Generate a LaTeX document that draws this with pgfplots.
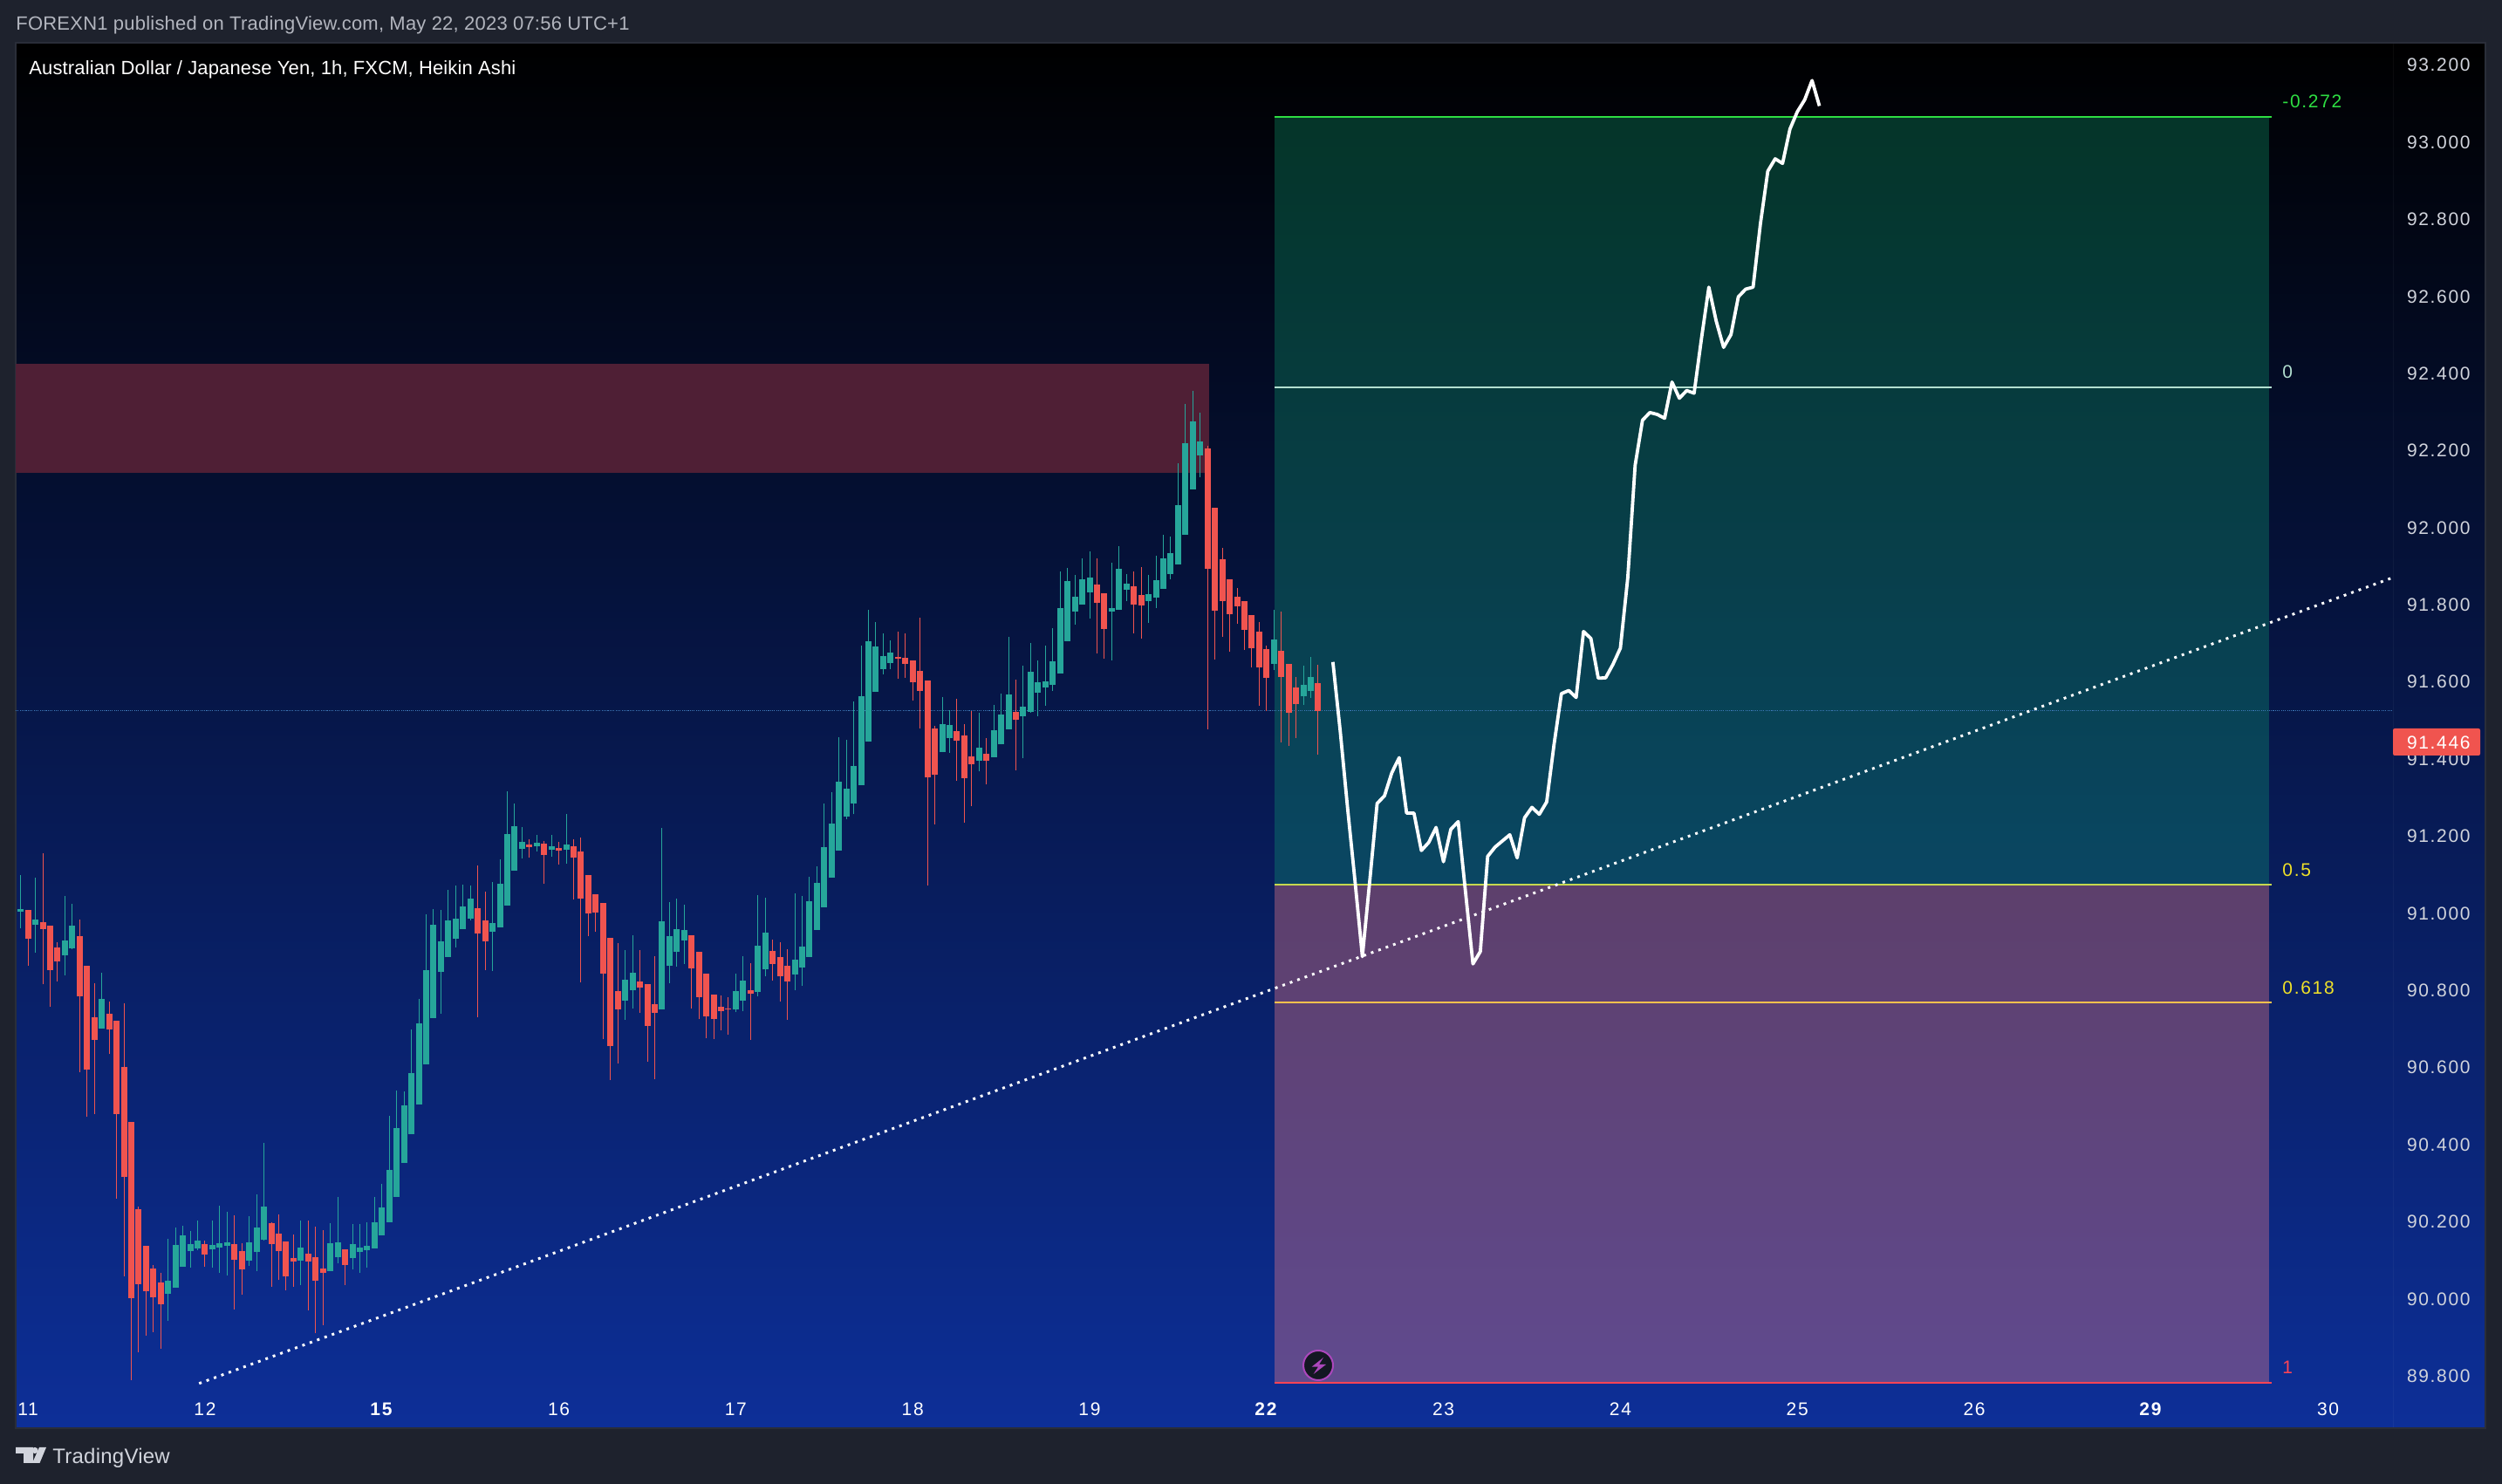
\documentclass[border=0pt]{standalone}
\usepackage{fontspec}
\usepackage{pgfplots}
\usepackage{pgfplotstable}
\pgfplotsset{compat=1.18}
\setmainfont{Liberation Sans}
\newfontfamily\tickfont[LetterSpace=8]{Liberation Sans}
\newfontfamily\headfont[LetterSpace=1]{Liberation Sans}
\newfontfamily\titlefont[LetterSpace=0.6]{Liberation Sans}

\definecolor{framecol}{HTML}{1E222D}
\definecolor{framelin}{HTML}{2A2E39}
\definecolor{bgbot}{HTML}{0D2F98}
\definecolor{upcol}{HTML}{26A69A}
\definecolor{dncol}{HTML}{F0544F}
\definecolor{labcol}{HTML}{D1D4DC}
\definecolor{headcol}{HTML}{B2B5BE}
\definecolor{zonecol}{HTML}{4F1F35}
\definecolor{tealfill}{HTML}{0FAA75}
\definecolor{pinkfill}{HTML}{F17C87}
\definecolor{fibgreen}{HTML}{2EDE42}
\definecolor{fibzero}{HTML}{B2DFD0}
\definecolor{fibhalf}{HTML}{C5D94F}
\definecolor{fibgold}{HTML}{FFC14D}
\definecolor{fibred}{HTML}{FF4455}
\definecolor{fibyel}{HTML}{F0E128}
\definecolor{lastline}{HTML}{3E78B8}
\definecolor{badge}{HTML}{AB47BC}
\definecolor{badgebg}{HTML}{131722}

% hours since May 11 00:00: wick low, wick high, body bottom, body top
\pgfplotstableread{
h lo hi bot top
-1 90.962 91.100 91.004 91.012
1 90.898 91.093 90.971 90.985
5 90.839 91.045 90.891 90.930
6 90.907 91.025 90.910 90.968
10 90.701 90.846 90.701 90.778
19 89.944 90.157 90.013 90.047
20 90.030 90.186 90.030 90.140
21 90.084 90.190 90.084 90.165
22 90.082 90.176 90.124 90.142
23 90.126 90.203 90.132 90.151
25 90.082 90.203 90.128 90.140
26 90.068 90.242 90.134 90.145
27 90.061 90.226 90.138 90.147
30 90.086 90.215 90.099 90.147
31 90.072 90.272 90.122 90.186
32 90.151 90.405 90.153 90.240
37 90.036 90.203 90.099 90.134
41 90.072 90.197 90.072 90.145
42 90.093 90.265 90.109 90.147
44 90.076 90.195 90.107 90.142
45 90.068 90.195 90.122 90.134
46 90.082 90.199 90.126 90.138
47 90.132 90.265 90.132 90.199
48 90.165 90.299 90.165 90.238
49 90.199 90.475 90.199 90.335
50 90.265 90.541 90.265 90.443
51 90.353 90.539 90.353 90.502
52 90.428 90.699 90.428 90.586
53 90.505 90.778 90.505 90.715
54 90.609 90.998 90.609 90.853
55 90.729 91.011 90.729 90.971
56 90.740 91.009 90.849 90.928
57 90.887 91.061 90.887 90.982
58 90.912 91.073 90.934 90.987
59 90.959 91.075 90.959 91.018
60 90.982 91.073 90.987 91.039
63 90.851 91.081 90.953 90.975
64 90.964 91.140 90.964 91.077
65 91.020 91.317 91.020 91.206
66 91.111 91.285 91.111 91.226
67 91.143 91.224 91.167 91.186
69 91.161 91.204 91.174 91.183
71 91.147 91.204 91.165 91.174
73 91.129 91.258 91.165 91.179
81 90.724 90.905 90.774 90.828
82 90.754 90.944 90.801 90.846
86 90.751 91.222 90.751 90.980
87 90.819 91.029 90.864 90.941
88 90.862 91.039 90.901 90.959
89 90.869 91.023 90.930 90.957
96 90.744 90.844 90.751 90.799
97 90.747 90.889 90.774 90.826
99 90.785 91.048 90.797 90.916
100 90.837 91.041 90.855 90.950
104 90.801 91.052 90.842 90.880
105 90.812 91.045 90.860 90.914
106 90.887 91.095 90.887 91.032
107 90.957 91.122 90.957 91.079
108 91.016 91.286 91.016 91.172
109 91.093 91.315 91.093 91.233
110 91.163 91.457 91.163 91.341
111 91.245 91.451 91.251 91.323
112 91.257 91.550 91.285 91.382
113 91.333 91.695 91.333 91.563
114 91.445 91.787 91.445 91.706
115 91.574 91.755 91.574 91.692
116 91.620 91.726 91.633 91.667
117 91.633 91.708 91.650 91.676
124 91.418 91.561 91.418 91.491
125 91.416 91.526 91.455 91.489
129 91.368 91.521 91.396 91.430
131 91.405 91.541 91.405 91.475
132 91.438 91.570 91.438 91.515
133 91.477 91.717 91.477 91.567
135 91.403 91.643 91.512 91.536
136 91.521 91.702 91.523 91.627
137 91.512 91.656 91.573 91.600
138 91.539 91.695 91.586 91.602
139 91.577 91.740 91.593 91.654
140 91.622 91.887 91.622 91.792
141 91.706 91.896 91.706 91.862
142 91.749 91.878 91.783 91.821
143 91.801 91.921 91.801 91.867
144 91.765 91.939 91.833 91.871
147 91.656 91.910 91.783 91.792
148 91.788 91.953 91.788 91.894
149 91.810 91.880 91.840 91.855
152 91.754 91.878 91.810 91.828
153 91.792 91.928 91.819 91.864
154 91.842 91.982 91.842 91.921
155 91.867 91.978 91.880 91.935
156 91.905 92.168 91.905 92.059
157 91.982 92.321 91.982 92.220
158 92.100 92.355 92.100 92.276
159 92.131 92.299 92.188 92.224
169 91.631 91.788 91.647 91.711
173 91.541 91.643 91.564 91.593
174 91.559 91.665 91.577 91.613
}\upbars

\pgfplotstableread{
h lo hi bot top
0 90.864 91.010 90.935 91.010
2 90.816 91.156 90.960 90.977
3 90.758 90.968 90.853 90.968
4 90.824 90.925 90.875 90.912
7 90.589 90.985 90.785 90.941
8 90.472 90.864 90.595 90.864
9 90.480 90.819 90.672 90.731
11 90.635 90.772 90.699 90.739
12 90.260 90.722 90.480 90.722
13 90.059 90.767 90.316 90.602
14 89.790 90.459 90.002 90.459
15 89.861 90.240 90.038 90.233
16 89.905 90.138 90.020 90.138
17 89.914 90.088 90.005 90.080
18 89.871 90.068 89.986 90.043
24 90.084 90.151 90.115 90.142
28 89.973 90.217 90.101 90.142
29 90.011 90.145 90.076 90.124
33 90.032 90.199 90.142 90.197
34 90.049 90.220 90.124 90.170
35 90.022 90.149 90.059 90.149
36 90.032 90.167 90.097 90.107
38 89.970 90.203 90.097 90.118
39 89.911 90.188 90.047 90.109
40 89.932 90.178 90.068 90.080
43 90.036 90.128 90.088 90.128
61 90.731 91.124 90.948 91.014
62 90.853 91.057 90.928 90.982
68 91.145 91.192 91.172 91.179
70 91.077 91.188 91.152 91.181
72 91.127 91.186 91.163 91.170
74 91.036 91.192 91.145 91.174
75 90.821 91.197 91.039 91.161
76 90.941 91.100 91.000 91.100
77 90.953 91.050 91.002 91.050
78 90.674 91.027 90.844 91.027
79 90.568 90.937 90.656 90.937
80 90.611 90.923 90.751 90.799
83 90.742 90.905 90.808 90.824
84 90.616 90.817 90.708 90.817
85 90.570 90.889 90.742 90.765
90 90.754 90.944 90.858 90.944
91 90.726 90.901 90.783 90.901
92 90.677 90.844 90.733 90.844
93 90.674 90.790 90.726 90.790
94 90.697 90.788 90.747 90.758
95 90.686 90.783 90.751 90.754
98 90.672 90.871 90.792 90.801
101 90.826 90.932 90.869 90.903
102 90.772 90.925 90.837 90.887
103 90.724 90.907 90.824 90.864
118 91.608 91.731 91.661 91.665
119 91.611 91.726 91.647 91.663
120 91.552 91.656 91.599 91.656
121 91.480 91.767 91.577 91.629
122 91.072 91.604 91.353 91.604
123 91.231 91.486 91.360 91.480
126 91.344 91.556 91.448 91.473
127 91.235 91.491 91.351 91.462
128 91.278 91.525 91.386 91.407
130 91.334 91.455 91.396 91.414
134 91.371 91.607 91.503 91.523
145 91.674 91.921 91.806 91.853
146 91.661 91.831 91.738 91.831
150 91.726 91.887 91.801 91.849
151 91.713 91.898 91.799 91.826
160 91.478 92.213 91.894 92.206
161 91.659 92.052 91.785 92.052
162 91.717 91.948 91.810 91.919
163 91.679 91.867 91.776 91.867
164 91.751 91.844 91.797 91.821
165 91.683 91.810 91.736 91.810
166 91.638 91.774 91.688 91.774
167 91.539 91.756 91.638 91.731
168 91.525 91.695 91.611 91.686
170 91.444 91.783 91.613 91.681
171 91.435 91.647 91.521 91.647
172 91.455 91.613 91.543 91.586
175 91.412 91.645 91.525 91.598
}\dnbars

% the drawn projection, one point per hour
\pgfplotstableread{
h p
177 91.652
178 91.472
179 91.272
180 91.084
181 90.888
182 91.084
183 91.285
184 91.305
185 91.365
186 91.404
187 91.260
188 91.260
189 91.163
190 91.184
191 91.223
192 91.134
193 91.218
194 91.238
195 91.054
196 90.869
197 90.901
198 91.148
199 91.172
200 91.188
201 91.204
202 91.144
203 91.248
204 91.275
205 91.257
206 91.289
207 91.438
208 91.570
209 91.578
210 91.560
211 91.731
212 91.713
213 91.610
214 91.611
215 91.646
216 91.688
217 91.870
218 92.162
219 92.279
220 92.299
221 92.294
222 92.284
223 92.378
224 92.336
225 92.356
226 92.349
227 92.491
228 92.624
229 92.536
230 92.468
231 92.501
232 92.599
233 92.619
234 92.624
235 92.789
236 92.925
237 92.957
238 92.945
239 93.034
240 93.079
241 93.110
242 93.160
243 93.094
}\projline

\pgfplotsset{
  candle/.style 2 args={draw=none,no markers,forget plot,
    error bars/.cd,y dir=plus,y explicit,error mark=none,
    error bar style={draw=#1,line width=#2,line cap=butt,solid}},
}

\begin{document}
\begin{tikzpicture}
\fill[framecol] (0,0) rectangle (1434pt,850.5pt);
\begin{axis}[
  at={(9pt,32pt)},anchor=south west,
  width=1415.5pt,height=794pt,scale only axis,
  xmin=-1.68,xmax=333.35,ymin=89.665,ymax=93.258,
  clip mode=individual,
  axis line style={draw=framelin,line width=0.8pt},
  axis background/.style={top color=black,bottom color=bgbot},
  major tick length=0pt,
  xtick={0,24,...,312},
  xticklabels={11,12,\textbf{15},16,17,18,19,\textbf{22},23,24,25,26,\textbf{29},30},
  xticklabel style={font=\tickfont\fontsize{10.5}{12}\selectfont,text=white,anchor=center,yshift=11pt},
  ytick={89.8,90,90.2,90.4,90.6,90.8,91,91.2,91.4,91.6,91.8,92,92.2,92.4,92.6,92.8,93,93.2},
  ytick pos=right,yticklabel pos=right,
  yticklabel style={font=\tickfont\fontsize{10.5}{12}\selectfont,text=labcol,anchor=east,inner sep=0pt,xshift=-8.5pt,
    /pgf/number format/.cd,fixed,fixed zerofill,precision=3,assume math mode=true},
]
% supply zone
\addplot[fill=zonecol,draw=none,forget plot] coordinates {(-1.68,92.143) (160.2,92.143) (160.2,92.425) (-1.68,92.425)} -- cycle;
% fibonacci zones
\addplot[fill=tealfill,fill opacity=0.3,draw=none,forget plot] coordinates {(169.1,91.074) (304,91.074) (304,93.066) (169.1,93.066)} -- cycle;
\addplot[fill=pinkfill,fill opacity=0.37,draw=none,forget plot] coordinates {(169.1,89.783) (304,89.783) (304,91.074) (169.1,91.074)} -- cycle;
\addplot[line width=1.2pt,draw=fibgreen,forget plot] coordinates {(169.1,93.066) (304.3,93.066)};
\addplot[line width=1.2pt,draw=fibzero,forget plot] coordinates {(169.1,92.364) (304.3,92.364)};
\addplot[line width=1.2pt,draw=fibhalf,forget plot] coordinates {(169.1,91.074) (304.3,91.074)};
\addplot[line width=1.2pt,draw=fibgold,forget plot] coordinates {(169.1,90.769) (304.3,90.769)};
\addplot[line width=1.2pt,draw=fibred,forget plot] coordinates {(169.1,89.783) (304.3,89.783)};
% last price line
\addplot[line width=0.5pt,draw=lastline,dash pattern=on 0.55pt off 0.6pt,forget plot] coordinates {(-1.68,91.527) (320.8,91.527)};
% candles
\addplot[candle={upcol}{0.5pt}] table[x=h,y=lo,y error expr=\thisrow{hi}-\thisrow{lo}] {\upbars};
\addplot[candle={upcol}{3.5pt}] table[x=h,y=bot,y error expr=\thisrow{top}-\thisrow{bot}] {\upbars};
\addplot[candle={dncol}{0.5pt}] table[x=h,y=lo,y error expr=\thisrow{hi}-\thisrow{lo}] {\dnbars};
\addplot[candle={dncol}{3.5pt}] table[x=h,y=bot,y error expr=\thisrow{top}-\thisrow{bot}] {\dnbars};
% trend line and projection
\addplot[white,line width=1.5pt,dash pattern=on 1.5pt off 3pt,forget plot] coordinates {(23.2,89.781) (320.8,91.871)};
\addplot[white,line width=1.9pt,line join=round,forget plot] table[x=h,y=p] {\projline};
\end{axis}
% annotations, in pixels of the page
\begin{scope}[x=0.5pt,y=-0.5pt,shift={(0pt,850.5pt)}]
\draw[white,opacity=0.04,line width=0.5pt] (2743,50) -- (2743,1636);
\fill[dncol,rounded corners=1pt] (2743,835) rectangle (2843,866);
\node[anchor=east,inner sep=0pt,text=white,font=\tickfont\fontsize{10.5}{12}\selectfont] at (2832,851) {91.446};
\node[anchor=west,inner sep=0pt,text=headcol,font=\headfont\fontsize{11}{13}\selectfont] at (18,29) {FOREXN1 published on TradingView.com, May 22, 2023 07:56 UTC+1};
\node[anchor=west,inner sep=0pt,text=white,font=\titlefont\fontsize{11}{13}\selectfont] at (33,79.5) {Australian Dollar / Japanese Yen, 1h, FXCM, Heikin Ashi};
\node[anchor=west,inner sep=0pt,text=fibgreen,font=\tickfont\fontsize{10.5}{12}\selectfont] at (2616,116) {-0.272};
\node[anchor=west,inner sep=0pt,text=fibzero,font=\tickfont\fontsize{10.5}{12}\selectfont] at (2616,426) {0};
\node[anchor=west,inner sep=0pt,text=fibyel,font=\tickfont\fontsize{10.5}{12}\selectfont] at (2616,997) {0.5};
\node[anchor=west,inner sep=0pt,text=fibyel,font=\tickfont\fontsize{10.5}{12}\selectfont] at (2616,1132) {0.618};
\node[anchor=west,inner sep=0pt,text=fibred,font=\tickfont\fontsize{10.5}{12}\selectfont] at (2616,1567) {1};
% lightning badge
\draw[draw=badge,fill=badgebg,line width=1pt] (1511,1565) circle[radius=17];
\fill[badge] (1517,1556) -- (1503.6,1566.7) -- (1511,1566.7) -- (1505.6,1575) -- (1520,1564) -- (1512,1564) -- cycle;
% footer logo
\fill[labcol] (18,1659) -- (38,1659) -- (38,1677) -- (27,1677) -- (27,1666) -- (18,1666) -- cycle;
\fill[labcol] (40,1662.5) circle[radius=3.6];
\fill[labcol] (45,1659) -- (53,1659) -- (45.5,1677) -- (37,1677) -- cycle;
\node[anchor=west,inner sep=0pt,text=labcol,font=\headfont\fontsize{12}{14}\selectfont] at (60,1671) {TradingView};
\end{scope}
\end{tikzpicture}
\end{document}
